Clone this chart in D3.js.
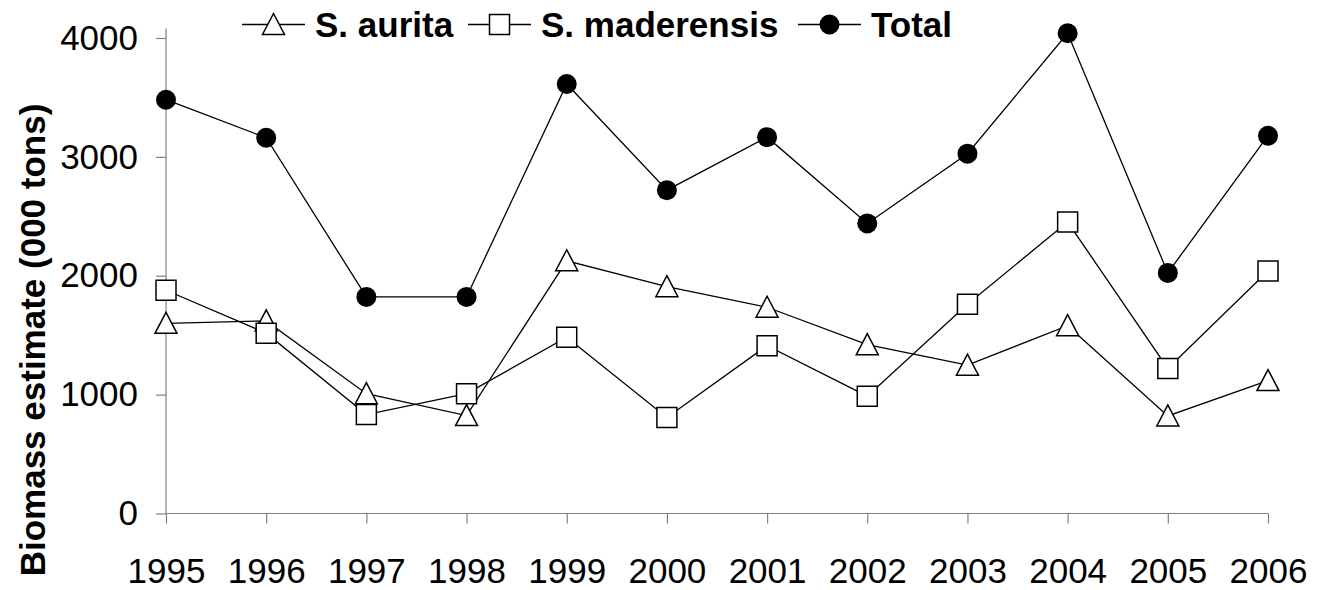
<!DOCTYPE html>
<html>
<head>
<meta charset="utf-8">
<script src="https://cdn.jsdelivr.net/npm/d3@7"></script>
<style>
  body { margin: 0; background: #fff; }
  svg { display: block; font-family: "Liberation Sans", Arial, sans-serif; }
</style>
</head>
<body>
<svg width="1329" height="590"></svg>
<script>
// data
const years = [1995, 1996, 1997, 1998, 1999, 2000, 2001, 2002, 2003, 2004, 2005, 2006]
const aurita = [1600, 1620, 1008, 824, 2126, 1908, 1735, 1420, 1248, 1580, 821, 1118]
const maderensis = [1878, 1517, 832, 1008, 1483, 808, 1412, 987, 1761, 2452, 1220, 2040]
const total = [3481, 3161, 1822, 1822, 3613, 2720, 3166, 2440, 3027, 4040, 2024, 3178]
const yTicks = [0, 1000, 2000, 3000, 4000]
const seriesNames = ['S. aurita', 'S. maderensis', 'Total']

const svg = d3.select('svg')
const axisColor = '#808080'

const x = d3.scaleLinear().domain([1995, 2006]).range([166, 1268])
const y = d3.scaleLinear().domain([0, 4000]).range([513.5, 38])

// marker shapes
const markers = {
    triangle: 'M0,-11L11,10L-11,10Z',
    square: 'M-10,-10H10V10H-10Z'
}

function drawMarker(g, type) {
    if (type === 'circle') {
        g.append('circle').attr('r', 10).attr('fill', '#000')
    } else {
        g.append('path')
            .attr('d', markers[type])
            .attr('fill', '#fff')
            .attr('stroke', '#000')
            .attr('stroke-width', 1.5)
    }
}

// axes
const yAxis = svg.append('g')
    .attr('transform', `translate(${x(1995)},0)`)
    .call(d3.axisLeft(y).tickValues(yTicks).tickFormat(d3.format('d')).tickSize(10).tickSizeOuter(0).tickPadding(18))
yAxis.select('.domain').attr('d', `M0,${y(4080)}V${y(0)}`)

const xAxis = svg.append('g')
    .attr('transform', `translate(0,${y(0)})`)
    .call(d3.axisBottom(x).tickValues(years).tickFormat(d3.format('d')).tickSize(10).tickSizeOuter(0))
xAxis.select('.domain').attr('d', `M${x(1995)},0H${x(2006)}`)

svg.selectAll('.domain, .tick line').attr('stroke', axisColor).attr('stroke-width', 1.2)
yAxis.selectAll('text').attr('font-size', 35).attr('fill', '#000').attr('font-family', null)
xAxis.selectAll('text').attr('font-size', 35).attr('fill', '#000').attr('font-family', null)
    .attr('y', 69.5).attr('dy', null)

// y title
svg.append('text')
    .attr('transform', 'translate(45,340) rotate(-90)')
    .attr('text-anchor', 'middle')
    .attr('font-size', 35)
    .attr('font-weight', 'bold')
    .text('Biomass estimate (000 tons)')

// series
const series = [
    { name: seriesNames[0], values: aurita, marker: 'triangle' },
    { name: seriesNames[1], values: maderensis, marker: 'square' },
    { name: seriesNames[2], values: total, marker: 'circle' }
]

const line = d3.line()
    .x((d, i) => x(years[i]))
    .y(d => y(d))

series.forEach(s => {
    const g = svg.append('g')
    g.append('path')
        .attr('d', line(s.values))
        .attr('fill', 'none')
        .attr('stroke', '#000')
        .attr('stroke-width', 1.3)
    g.selectAll('.pt')
        .data(s.values)
        .join('g')
        .attr('class', 'pt')
        .attr('transform', (d, i) => `translate(${x(years[i])},${y(d)})`)
        .each(function () { drawMarker(d3.select(this), s.marker) })
})

// legend
const legendX = [242, 468, 798]
const legend = svg.append('g')
series.forEach((s, i) => {
    const g = legend.append('g').attr('transform', `translate(${legendX[i]},24.5)`)
    g.append('line').attr('x1', 0).attr('x2', 63).attr('stroke', '#000').attr('stroke-width', 1.3)
    drawMarker(g.append('g').attr('transform', 'translate(31.5,0)'), s.marker)
    g.append('text')
        .attr('x', 73)
        .attr('y', 12)
        .attr('font-size', 35)
        .attr('font-weight', 'bold')
        .text(s.name)
})
</script>
</body>
</html>
